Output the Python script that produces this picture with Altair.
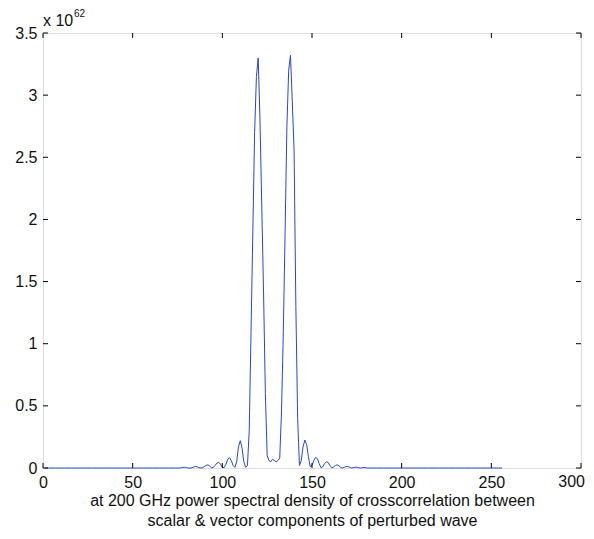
import altair as alt
import pandas as pd

# ---- data ----
x_ticks = [0, 50, 100, 150, 200, 250, 300]
y_ticks = [0, 0.5, 1, 1.5, 2, 2.5, 3, 3.5]
x_last_tick = [300]                          # MATLAB keeps this label inside the figure

sample_index = list(range(1, 257))          # psd samples 1..256
lobe_first_index = 77                        # first sample of the non-flat region
lobe_values = [                              # samples 77..180 (units of 1e62)
    0.002, 0.005, 0.006, 0.003, 0.0, 0.0,                     # 77-82
    0.002, 0.008, 0.012, 0.01, 0.003, 0.0,                    # 83-88
    0.003, 0.012, 0.022, 0.025, 0.015, 0.002,                 # 89-94
    0.005, 0.02, 0.04, 0.046, 0.03, 0.005,                    # 95-100
    0.003, 0.03, 0.07, 0.083, 0.06, 0.02,                     # 101-106
    0.005, 0.05, 0.17, 0.22, 0.16, 0.05, 0.005,               # 107-113
    0.02, 0.3, 1.09, 1.9, 2.7, 3.15, 3.30, 2.8, 2.1, 1.4, 0.6, 0.1,   # 114-125
    0.06, 0.05, 0.07, 0.06, 0.05, 0.06,                       # 126-131
    0.08, 0.45, 1.09, 1.9, 2.75, 3.2, 3.32, 2.95, 2.56, 1.3, 0.4, 0.02,  # 132-143
    0.06, 0.17, 0.225, 0.19, 0.09, 0.01,                      # 144-149
    0.02, 0.06, 0.085, 0.075, 0.035, 0.003,                   # 150-155
    0.01, 0.035, 0.05, 0.045, 0.02, 0.002,                    # 156-161
    0.008, 0.02, 0.025, 0.018, 0.005, 0.0,                    # 162-167
    0.005, 0.011, 0.012, 0.006, 0.0,                          # 168-172
    0.003, 0.006, 0.006, 0.002, 0.0,                          # 173-177
    0.002, 0.004, 0.002,                                      # 178-180
]
flat_level = 0.0

x_title = ["at 200 GHz power spectral density of crosscorrelation between",
           "scalar & vector components of perturbed wave"]
exp_base = "x 10"
exp_power = "62"

# ---- build table ----
psd = []
for i in sample_index:
    k = i - lobe_first_index
    psd.append(lobe_values[k] if 0 <= k < len(lobe_values) else flat_level)
df = pd.DataFrame({"x": sample_index, "y": psd})

W, H = 538, 435
FONT = "Liberation Sans"
FS = 16
TICK = 5
TXT = "#111111"

xs = alt.Scale(domain=[0, 300], nice=False, zero=False)
ys = alt.Scale(domain=[0, 3.5], nice=False)

x_axis = alt.Axis(values=x_ticks, ticks=False, grid=False, domain=False,
                  labelExpr="datum.value == 300 ? '' : datum.label",
                  labelFont=FONT, labelFontSize=FS, labelColor=TXT,
                  labelPadding=6, labelFlush=False,
                  title=x_title, titleFont=FONT, titleFontSize=FS,
                  titleFontWeight="normal", titleColor=TXT, titlePadding=2,
                  titleLineHeight=20)
y_axis = alt.Axis(values=y_ticks, ticks=False, grid=False, domain=False,
                  format="~g", labelFont=FONT, labelFontSize=FS,
                  labelColor=TXT, labelPadding=6, labelFlush=False,
                  title=None)

line = alt.Chart(df).mark_line(color="#2a48c0", strokeWidth=1).encode(
    x=alt.X("x:Q", scale=xs, axis=x_axis),
    y=alt.Y("y:Q", scale=ys, axis=y_axis),
)

xt = pd.DataFrame({"x": x_ticks})
yt = pd.DataFrame({"y": y_ticks})

tick_bottom = alt.Chart(xt).mark_rule(color="black").encode(
    x=alt.X("x:Q", scale=xs), y=alt.value(H), y2=alt.value(H - TICK))
tick_top = alt.Chart(xt).mark_rule(color="black").encode(
    x=alt.X("x:Q", scale=xs), y=alt.value(0), y2=alt.value(TICK))
tick_left = alt.Chart(yt).mark_rule(color="black").encode(
    y=alt.Y("y:Q", scale=ys), x=alt.value(0), x2=alt.value(TICK))
tick_right = alt.Chart(yt).mark_rule(color="black").encode(
    y=alt.Y("y:Q", scale=ys), x=alt.value(W - TICK), x2=alt.value(W))

last_df = pd.DataFrame({"x": x_last_tick, "t": [str(v) for v in x_last_tick]})
last_label = alt.Chart(last_df).mark_text(
    font=FONT, fontSize=FS, align="right", baseline="top", color=TXT, dx=4
).encode(x=alt.X("x:Q", scale=xs), y=alt.value(H + 6), text="t:N")

label_df = pd.DataFrame({"t": [exp_base]})
exp_text = alt.Chart(label_df).mark_text(
    font=FONT, fontSize=FS, align="left", baseline="alphabetic", color=TXT
).encode(text="t:N", x=alt.value(0), y=alt.value(-7))
pow_df = pd.DataFrame({"t": [exp_power]})
pow_text = alt.Chart(pow_df).mark_text(
    font=FONT, fontSize=10, align="left", baseline="alphabetic", color=TXT
).encode(text="t:N", x=alt.value(31), y=alt.value(-16))

chart = alt.layer(line, tick_bottom, tick_top, tick_left, tick_right,
                  last_label, exp_text, pow_text).properties(
    width=W, height=H,
    autosize=alt.AutoSizeParams(type="none"),
    padding={"left": 35, "top": 25, "right": 5, "bottom": 62},
).configure_view(stroke="#222222", strokeWidth=1).configure(background="white")

chart.save("out.html", embed_options={"renderer": "svg", "actions": False})
